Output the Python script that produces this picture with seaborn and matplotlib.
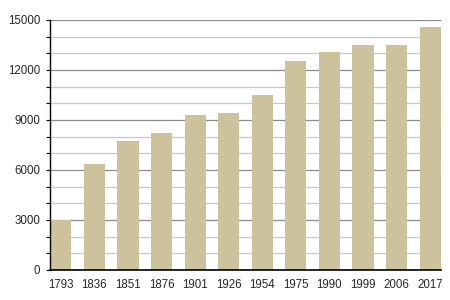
import matplotlib
matplotlib.use("Agg")
import matplotlib.pyplot as plt
import seaborn as sns
import pandas as pd
from matplotlib.ticker import MultipleLocator

years = ["1793", "1836", "1851", "1876", "1901", "1926", "1954", "1975", "1990", "1999", "2006", "2017"]
population = [3020, 6380, 7750, 8240, 9300, 9420, 10500, 12560, 13080, 13500, 13500, 14580]

df = pd.DataFrame({"year": years, "pop": population})

sns.set_style("white")
plt.rcParams['font.family'] = ['Liberation Sans', 'DejaVu Sans']

fig = plt.figure(figsize=(4.5, 3), dpi=100)
ax = fig.add_axes([50/450, 30/300, 391/450, 250/300])

sns.barplot(data=df, x="year", y="pop", color="#CCC29C", width=0.63, saturation=1,
            linewidth=0, edgecolor="none", ax=ax, zorder=3)

ax.set_ylim(0, 15000)
ax.set_xlim(-0.32, len(years) - 0.68)
ax.yaxis.set_major_locator(MultipleLocator(3000))
ax.yaxis.set_minor_locator(MultipleLocator(1000))
ax.grid(which="minor", axis="y", color="#c8c8c8", linewidth=0.9, zorder=0)
ax.grid(which="major", axis="y", color="#8c8c8c", linewidth=0.9, zorder=1)
ax.set_axisbelow(True)

for s in ["top", "right"]:
    ax.spines[s].set_visible(False)
ax.spines["left"].set_color("black")
ax.spines["bottom"].set_color("black")
ax.spines["left"].set_linewidth(1.0)
ax.spines["bottom"].set_linewidth(1.2)
ax.spines["left"].set_zorder(5)
ax.spines["bottom"].set_zorder(5)

ax.tick_params(axis="y", which="both", left=True, length=3, width=0.8, color="black", labelsize=8.3, pad=4)
ax.tick_params(axis="y", which="minor", length=3)
ax.tick_params(axis="x", bottom=False, labelsize=8.3, pad=3)
ax.set_xlabel("")
ax.set_ylabel("")

fig.savefig("out.png", dpi=100)
